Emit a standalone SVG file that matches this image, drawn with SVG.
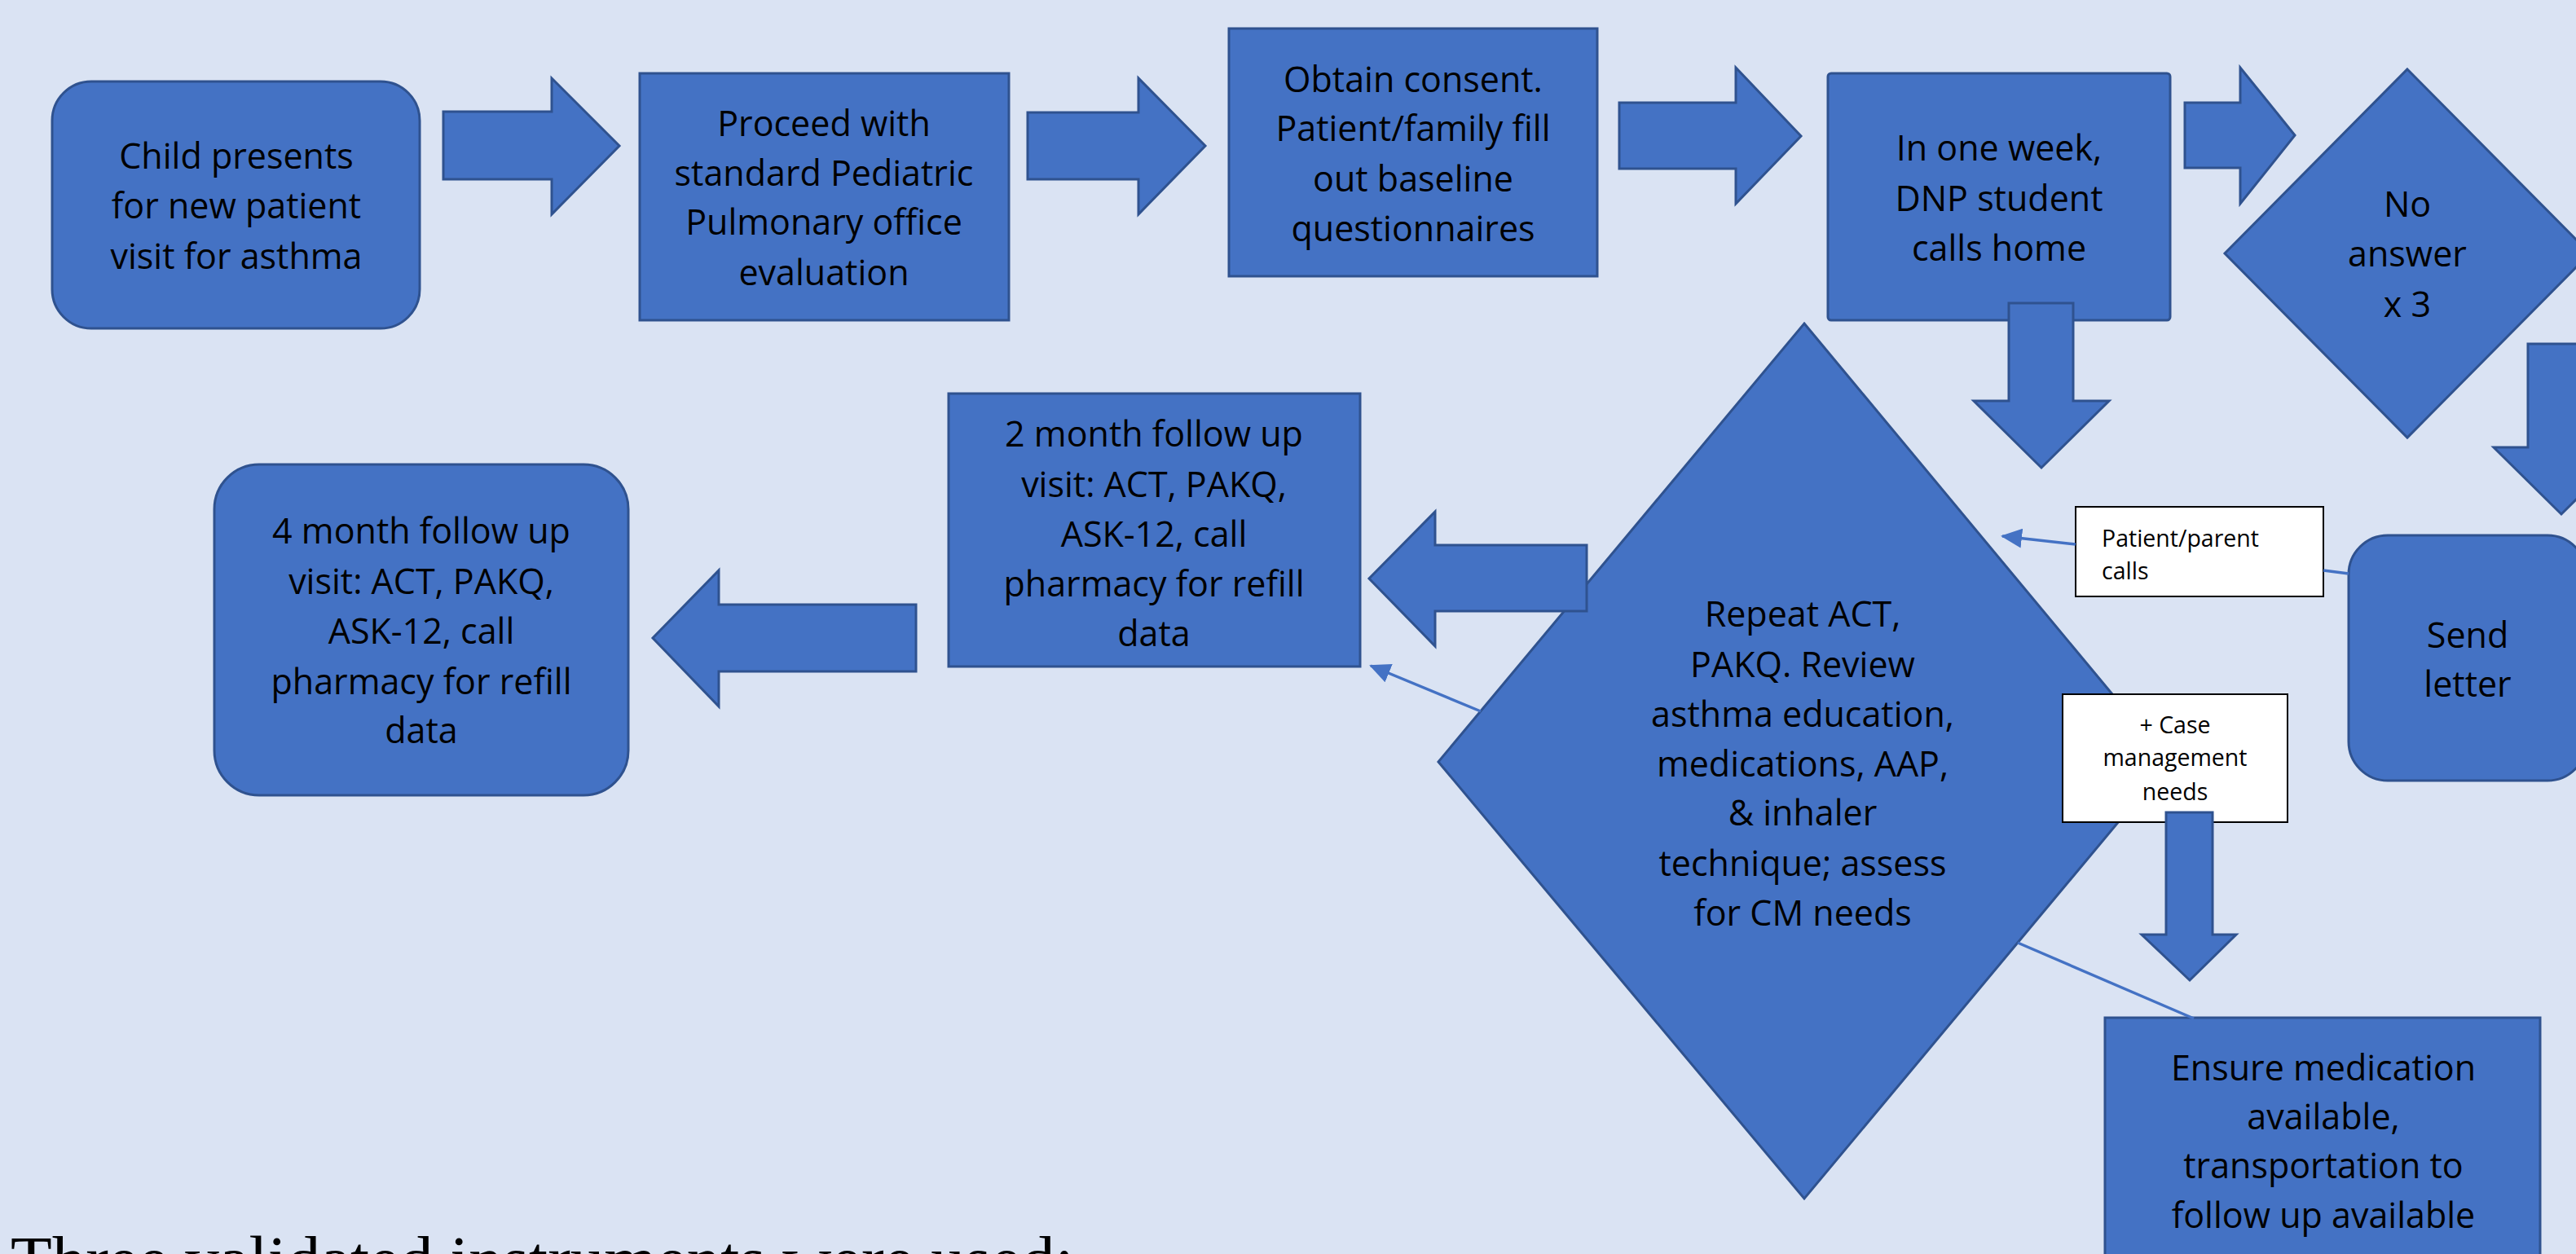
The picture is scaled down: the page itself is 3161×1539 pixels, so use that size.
<svg xmlns="http://www.w3.org/2000/svg" width="3161" height="1539" viewBox="0 0 3161 1539">
<defs>
<style>
.bg{fill:#DAE3F3}
.shape{fill:#4472C4;stroke:#2F528F;stroke-width:3;stroke-linejoin:miter}
.label{fill:#FFFFFF;stroke:#000000;stroke-width:2}
.t{font-family:"Open Sans","Noto Sans","DejaVu Sans",sans-serif;font-size:43px;fill:#000000;text-anchor:middle}
.s{font-family:"Open Sans","Noto Sans","DejaVu Sans",sans-serif;font-size:28.5px;fill:#000000}
.line{fill:none;stroke:#4472C4;stroke-width:3.5}
.serif{font-family:"Liberation Serif","Times New Roman",serif;font-size:83px;fill:#000000}
</style>
<marker id="tri" markerUnits="userSpaceOnUse" markerWidth="26" markerHeight="24" refX="24" refY="12" orient="auto">
<path d="M0,0 L26,12 L0,24 z" fill="#4472C4"/>
</marker>
</defs>
<rect class="bg" x="0" y="0" width="3161" height="1539"/>

<g id="nodes">
<g id="n-child">
<rect class="shape" x="64" y="100" width="451" height="303" rx="48" ry="48"/>
<text class="t"><tspan x="290" y="207">Child presents</tspan><tspan x="290" y="268">for new patient</tspan><tspan x="290" y="330">visit for asthma</tspan></text>
</g>
<g id="n-proceed">
<rect class="shape" x="785" y="90" width="453" height="303"/>
<text class="t"><tspan x="1011" y="167">Proceed with</tspan><tspan x="1011" y="228">standard Pediatric</tspan><tspan x="1011" y="288">Pulmonary office</tspan><tspan x="1011" y="350">evaluation</tspan></text>
</g>
<g id="n-consent">
<rect class="shape" x="1508" y="35" width="452" height="304"/>
<text class="t"><tspan x="1734" y="113">Obtain consent.</tspan><tspan x="1734" y="173">Patient/family fill</tspan><tspan x="1734" y="235">out baseline</tspan><tspan x="1734" y="296">questionnaires</tspan></text>
</g>
<g id="n-week">
<rect class="shape" x="2243" y="90" width="420" height="303" rx="4" ry="4"/>
<text class="t"><tspan x="2453" y="197">In one week,</tspan><tspan x="2453" y="259">DNP student</tspan><tspan x="2453" y="320">calls home</tspan></text>
</g>
<g id="n-noanswer">
<polygon class="shape" points="2954,85 3178,311 2954,537 2730,311"/>
<text class="t"><tspan x="2954" y="266">No</tspan><tspan x="2954" y="327">answer</tspan><tspan x="2954" y="389">x 3</tspan></text>
</g>
<g id="n-letter">
<rect class="shape" x="2882" y="657" width="292" height="301" rx="48" ry="48"/>
<text class="t"><tspan x="3028" y="795">Send</tspan><tspan x="3028" y="855">letter</tspan></text>
</g>
<g id="n-repeat">
<polygon class="shape" points="2214,397 2661,935 2214,1471 1765,935"/>
<text class="t"><tspan x="2212" y="769">Repeat ACT,</tspan><tspan x="2212" y="831">PAKQ. Review</tspan><tspan x="2212" y="892">asthma education,</tspan><tspan x="2212" y="953">medications, AAP,</tspan><tspan x="2212" y="1013">&amp; inhaler</tspan><tspan x="2212" y="1075">technique; assess</tspan><tspan x="2212" y="1136">for CM needs</tspan></text>
</g>
<g id="n-2month">
<rect class="shape" x="1164" y="483" width="505" height="335"/>
<text class="t"><tspan x="1416" y="548">2 month follow up</tspan><tspan x="1416" y="610">visit: ACT, PAKQ,</tspan><tspan x="1416" y="671">ASK-12, call</tspan><tspan x="1416" y="732">pharmacy for refill</tspan><tspan x="1416" y="793">data</tspan></text>
</g>
<g id="n-4month">
<rect class="shape" x="263" y="570" width="508" height="406" rx="55" ry="55"/>
<text class="t"><tspan x="517" y="667">4 month follow up</tspan><tspan x="517" y="729">visit: ACT, PAKQ,</tspan><tspan x="517" y="790">ASK-12, call</tspan><tspan x="517" y="852">pharmacy for refill</tspan><tspan x="517" y="912">data</tspan></text>
</g>
<g id="n-parentcalls">
<rect class="label" x="2547" y="622" width="304" height="110"/>
<text class="s"><tspan x="2579" y="671">Patient/parent</tspan><tspan x="2579" y="711">calls</tspan></text>
</g>
<g id="n-case">
<rect class="label" x="2531" y="852" width="276" height="157"/>
<text class="s" text-anchor="middle"><tspan x="2669" y="900">+ Case</tspan><tspan x="2669" y="940">management</tspan><tspan x="2669" y="982">needs</tspan></text>
</g>
<g id="n-ensure">
<rect class="shape" x="2583" y="1249" width="534" height="350"/>
<text class="t"><tspan x="2851" y="1326">Ensure medication</tspan><tspan x="2851" y="1386">available,</tspan><tspan x="2851" y="1446">transportation to</tspan><tspan x="2851" y="1507">follow up available</tspan></text>
</g>
</g>

<g id="connectors">
<polygon class="shape" points="544,137 677,137 677,96 760,179 677,263 677,220 544,220"/>
<polygon class="shape" points="1261,138 1397,138 1397,96 1479,179 1397,263 1397,220 1261,220"/>
<polygon class="shape" points="1987,126 2130,126 2130,83 2210,167 2130,250 2130,207 1987,207"/>
<polygon class="shape" points="2681,126 2749,126 2749,83 2816,166 2749,250 2749,206 2681,206"/>
<polygon class="shape" points="2465,372 2544,372 2544,492 2588,492 2505,574 2422,492 2465,492"/>
<polygon class="shape" points="3102,422 3184,422 3184,549 3226,549 3143,631 3060,549 3102,549"/>
<polygon class="shape" points="1947,669 1761,669 1761,628 1680,710 1761,793 1761,750 1947,750"/>
<polygon class="shape" points="1124,742 882,742 882,700 801,783 882,867 882,824 1124,824"/>
<polygon class="shape" points="2658,997 2715,997 2715,1147 2744,1147 2687,1203 2628,1147 2658,1147"/>
<line class="line" x1="2882" y1="704" x2="2851" y2="700"/>
<line class="line" x1="2547" y1="668" x2="2457" y2="658" marker-end="url(#tri)"/>
<line class="line" x1="1817" y1="873" x2="1682" y2="817" marker-end="url(#tri)"/>
<line class="line" x1="2476" y1="1157" x2="2692" y2="1250"/>
</g>

<text class="serif" x="13" y="1574">Three validated instruments were used:</text>
</svg>
